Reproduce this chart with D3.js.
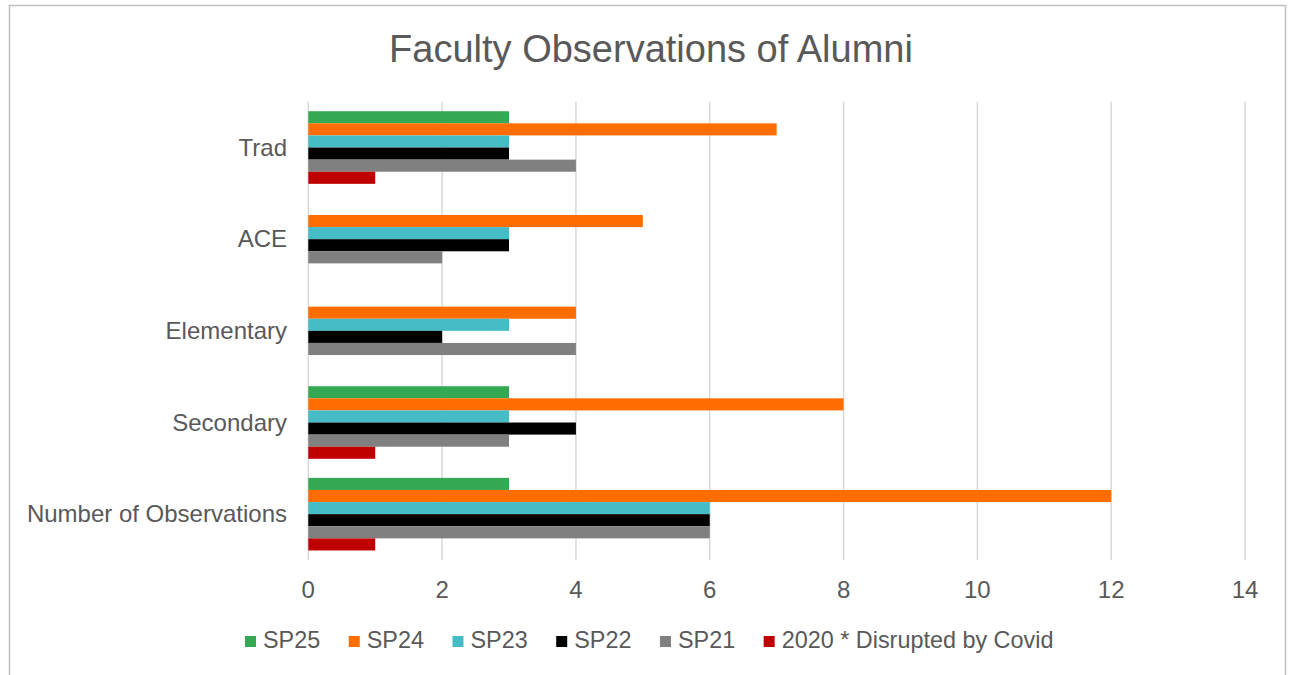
<!DOCTYPE html>
<html>
<head>
<meta charset="utf-8">
<script src="https://cdn.jsdelivr.net/npm/d3@7"></script>
<style>
  body { margin: 0; background: #fff; }
  svg { display: block; font-family: "Liberation Sans", Arial, sans-serif; }
</style>
</head>
<body>
<svg width="1289" height="675"></svg>
<script>
// data
var categories = ["Trad", "ACE", "Elementary", "Secondary", "Number of Observations"];
var seriesNames = ["SP25", "SP24", "SP23", "SP22", "SP21", "2020 * Disrupted by Covid"];
var seriesColors = ["#35a853", "#ff6d01", "#46bdc6", "#000000", "#808080", "#c00000"];
var sp25 = [3, 0, 0, 3, 3];
var sp24 = [7, 5, 4, 8, 12];
var sp23 = [3, 3, 3, 3, 6];
var sp22 = [3, 3, 2, 4, 6];
var sp21 = [4, 2, 4, 3, 6];
var y2020 = [1, 0, 0, 1, 1];
var xTicks = [0, 2, 4, 6, 8, 10, 12, 14];

var seriesValues = [sp25, sp24, sp23, sp22, sp21, y2020];

var svg = d3.select("svg");
var textColor = "#595959";

// chart border
svg.append("rect")
    .attr("x", 9.5).attr("y", 5.5)
    .attr("width", 1276).attr("height", 680)
    .attr("fill", "none")
    .attr("stroke", "#bfbfbf")
    .attr("stroke-width", 1.5);

svg.append("text")
    .attr("x", 651).attr("y", 62)
    .attr("text-anchor", "middle")
    .attr("fill", textColor)
    .style("font-size", "38px")
    .text("Faculty Observations of Alumni");

var x = d3.scaleLinear().domain([0, 14]).range([308.3, 1245]);

var y = d3.scaleBand()
    .domain(categories)
    .range([101.7, 560])
    .paddingInner(0.208)
    .paddingOuter(0.104);

var ySeries = d3.scaleBand()
    .domain(d3.range(seriesNames.length))
    .range([0, y.bandwidth()]);

// gridlines
svg.append("g").selectAll("line").data(xTicks).enter().append("line")
    .attr("x1", function(d){ return x(d); })
    .attr("x2", function(d){ return x(d); })
    .attr("y1", 101.7).attr("y2", 560)
    .attr("stroke", "#d9d9d9")
    .attr("stroke-width", 1.5);

// x tick labels
svg.append("g").selectAll("text").data(xTicks).enter().append("text")
    .attr("x", function(d){ return x(d); })
    .attr("y", 598)
    .attr("text-anchor", "middle")
    .attr("fill", textColor)
    .style("font-size", "24px")
    .text(function(d){ return d; });

// category labels
svg.append("g").selectAll("text").data(categories).enter().append("text")
    .attr("x", 287)
    .attr("y", function(d){ return y(d) + y.bandwidth()/2 + 8; })
    .attr("text-anchor", "end")
    .attr("fill", textColor)
    .style("font-size", "24px")
    .text(function(d){ return d; });

// bars
var groups = svg.append("g").selectAll("g").data(categories).enter().append("g")
    .attr("transform", function(d){ return "translate(0," + y(d) + ")"; });

groups.selectAll("rect")
    .data(function(d, i){
        return seriesValues.map(function(vals, s){ return {s: s, v: vals[i]}; });
    })
    .enter().append("rect")
    .filter(function(d){ return d.v > 0; })
    .attr("x", x(0))
    .attr("y", function(d){ return ySeries(d.s); })
    .attr("width", function(d){ return x(d.v) - x(0); })
    .attr("height", ySeries.bandwidth())
    .attr("fill", function(d){ return seriesColors[d.s]; });

// legend
var legend = svg.append("g");
var lx = 245;
seriesNames.forEach(function(name, i){
    legend.append("rect")
        .attr("x", lx).attr("y", 636)
        .attr("width", 11).attr("height", 11)
        .attr("fill", seriesColors[i]);
    var t = legend.append("text")
        .attr("x", lx + 18).attr("y", 648)
        .attr("fill", textColor)
        .style("font-size", "23.4px")
        .text(name);
    lx += 18 + t.node().getComputedTextLength() + 28.5;
});
</script>
</body>
</html>
